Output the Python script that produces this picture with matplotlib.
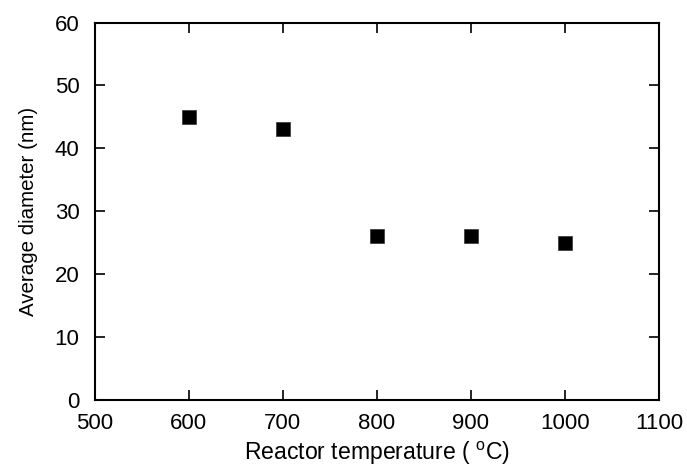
import matplotlib
matplotlib.use("Agg")
import matplotlib.pyplot as plt

plt.rcParams["font.family"] = ["Liberation Sans", "DejaVu Sans"]
plt.rcParams["mathtext.fontset"] = "custom"
plt.rcParams["mathtext.rm"] = "Liberation Sans"
plt.rcParams["mathtext.it"] = "Liberation Sans:italic"

temperature = [600, 700, 800, 900, 1000]
diameter = [45, 43, 26, 26, 25]

x_ticks = [500, 600, 700, 800, 900, 1000, 1100]
y_ticks = [0, 10, 20, 30, 40, 50, 60]

fig = plt.figure(figsize=(6.87, 4.69), dpi=100)
ax = fig.add_axes([0.138, 0.147, 0.821, 0.805])

ax.plot(temperature, diameter, linestyle="none", marker="s", markersize=10,
        color="black", markeredgecolor="#333333", markeredgewidth=0.5)

ax.set_xlim(500, 1100)
ax.set_ylim(0, 60)
ax.set_xticks(x_ticks)
ax.set_yticks(y_ticks)
ax.tick_params(direction="in", length=7.2, width=1.2, labelsize=16,
               top=True, right=True)
ax.tick_params(axis="x", pad=9.5)
ax.tick_params(axis="y", pad=11)
for spine in ax.spines.values():
    spine.set_linewidth(1.5)

ax.set_xlabel(r"Reactor temperature ( $^{\mathrm{o}}$C)", fontsize=16.6, labelpad=4)
ax.set_ylabel("Average diameter (nm)", fontsize=14.8, labelpad=12)

fig.savefig("out.png", dpi=100, facecolor="white")
